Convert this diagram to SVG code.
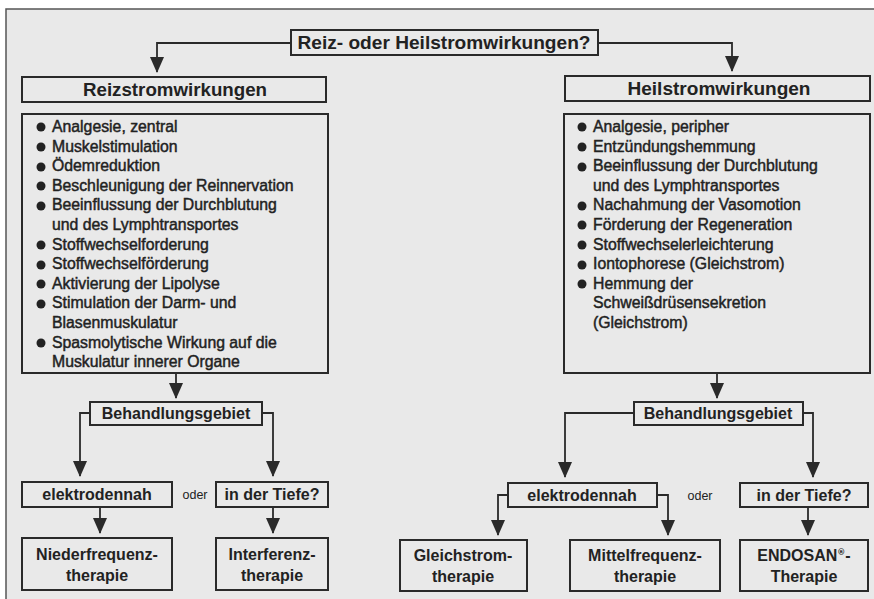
<svg xmlns="http://www.w3.org/2000/svg" width="874" height="599" viewBox="0 0 874 599">
<defs>
<marker id="ah" markerUnits="userSpaceOnUse" markerWidth="16" markerHeight="14" refX="15" refY="7" orient="auto" viewBox="0 0 16 14">
<path d="M0,0 L16,7 L0,14 Z" fill="#2a2a2a"/>
</marker>
</defs>
<style>
.bx{fill:none;stroke:#2a2a2a;stroke-width:2}
.cn{fill:none;stroke:#2a2a2a;stroke-width:1.8}
.h{font-family:"Liberation Sans",Arial,sans-serif;font-weight:bold;fill:#222;text-anchor:middle}
.t{font-family:"Liberation Sans",Arial,sans-serif;font-size:15.8px;fill:#222;stroke:#222;stroke-width:0.45}
.b{font-family:"Liberation Sans",Arial,sans-serif;font-weight:bold;font-size:16px;fill:#222;text-anchor:middle}
.o{font-family:"Liberation Sans",Arial,sans-serif;font-size:12.5px;fill:#222;text-anchor:middle}
.r{font-family:"DejaVu Sans",sans-serif;font-size:8px;fill:#222}
.d{fill:#222}
</style>
<rect x="0" y="0" width="874" height="599" fill="#ffffff"/>
<rect x="6" y="9" width="868" height="590" fill="#e9e9e9"/>
<path d="M6,599 V9 H874" fill="none" stroke="#555" stroke-width="1.5"/>

<g id="connectors">
<path class="cn" d="M291,43 H157 V72" marker-end="url(#ah)"/>
<path class="cn" d="M598,43 H732 V71" marker-end="url(#ah)"/>
<path class="cn" d="M176,373 V398" marker-end="url(#ah)"/>
<path class="cn" d="M90,413 H80 V476" marker-end="url(#ah)"/>
<path class="cn" d="M262,413 H273 V476" marker-end="url(#ah)"/>
<path class="cn" d="M100,507 V533" marker-end="url(#ah)"/>
<path class="cn" d="M273,507 V533" marker-end="url(#ah)"/>
<path class="cn" d="M717,373 V398" marker-end="url(#ah)"/>
<path class="cn" d="M634,413 H565 V477" marker-end="url(#ah)"/>
<path class="cn" d="M803,413 H813 V477" marker-end="url(#ah)"/>
<path class="cn" d="M508,495 H498 V535" marker-end="url(#ah)"/>
<path class="cn" d="M657,495 H668 V535" marker-end="url(#ah)"/>
<path class="cn" d="M808,507 V535" marker-end="url(#ah)"/>
</g>

<g id="root">
<rect class="bx" x="291" y="30" width="307" height="25"/>
<text class="h" x="444" y="49" font-size="18.5" textLength="293" lengthAdjust="spacingAndGlyphs">Reiz- oder Heilstromwirkungen?</text>
</g>

<g id="reiz">
<rect class="bx" x="22" y="77" width="304" height="25"/>
<text class="h" x="175" y="96" font-size="18.5" textLength="184" lengthAdjust="spacingAndGlyphs">Reizstromwirkungen</text>
</g>

<g id="heil">
<rect class="bx" x="565" y="76" width="305" height="25"/>
<text class="h" x="719" y="95" font-size="18.5" textLength="183" lengthAdjust="spacingAndGlyphs">Heilstromwirkungen</text>
</g>

<g id="reiz-list">
<rect class="bx" x="22" y="114" width="306" height="259"/>
<circle class="d" cx="41" cy="127" r="4.5"/>
<text class="t" x="52" y="132">Analgesie, zentral</text>
<circle class="d" cx="41" cy="147" r="4.5"/>
<text class="t" x="52" y="152">Muskelstimulation</text>
<circle class="d" cx="41" cy="167" r="4.5"/>
<text class="t" x="52" y="171">Ödemreduktion</text>
<circle class="d" cx="41" cy="186" r="4.5"/>
<text class="t" x="52" y="191">Beschleunigung der Reinnervation</text>
<circle class="d" cx="41" cy="206" r="4.5"/>
<text class="t" x="52" y="210">Beeinflussung der Durchblutung</text>
<text class="t" x="52" y="230">und des Lymphtransportes</text>
<circle class="d" cx="41" cy="245" r="4.5"/>
<text class="t" x="52" y="250">Stoffwechselforderung</text>
<circle class="d" cx="41" cy="265" r="4.5"/>
<text class="t" x="52" y="269">Stoffwechselförderung</text>
<circle class="d" cx="41" cy="284" r="4.5"/>
<text class="t" x="52" y="289">Aktivierung der Lipolyse</text>
<circle class="d" cx="41" cy="304" r="4.5"/>
<text class="t" x="52" y="308">Stimulation der Darm- und</text>
<text class="t" x="52" y="328">Blasenmuskulatur</text>
<circle class="d" cx="41" cy="343" r="4.5"/>
<text class="t" x="52" y="348">Spasmolytische Wirkung auf die</text>
<text class="t" x="52" y="367">Muskulatur innerer Organe</text>
</g>

<g id="heil-list">
<rect class="bx" x="564" y="114" width="306" height="259"/>
<circle class="d" cx="582" cy="127" r="4.5"/>
<text class="t" x="593" y="132">Analgesie, peripher</text>
<circle class="d" cx="582" cy="147" r="4.5"/>
<text class="t" x="593" y="152">Entzündungshemmung</text>
<circle class="d" cx="582" cy="167" r="4.5"/>
<text class="t" x="593" y="171">Beeinflussung der Durchblutung</text>
<text class="t" x="593" y="191">und des Lymphtransportes</text>
<circle class="d" cx="582" cy="206" r="4.5"/>
<text class="t" x="593" y="210">Nachahmung der Vasomotion</text>
<circle class="d" cx="582" cy="225" r="4.5"/>
<text class="t" x="593" y="230">Förderung der Regeneration</text>
<circle class="d" cx="582" cy="245" r="4.5"/>
<text class="t" x="593" y="250">Stoffwechselerleichterung</text>
<circle class="d" cx="582" cy="265" r="4.5"/>
<text class="t" x="593" y="269">Iontophorese (Gleichstrom)</text>
<circle class="d" cx="582" cy="284" r="4.5"/>
<text class="t" x="593" y="289">Hemmung der</text>
<text class="t" x="593" y="308">Schweißdrüsensekretion</text>
<text class="t" x="593" y="328">(Gleichstrom)</text>
</g>

<g id="beh-left">
<rect class="bx" x="90" y="402" width="172" height="23"/>
<text class="b" x="176" y="419">Behandlungsgebiet</text>
</g>
<g id="beh-right">
<rect class="bx" x="634" y="402" width="169" height="23"/>
<text class="b" x="718" y="419">Behandlungsgebiet</text>
</g>

<g id="elek-left">
<rect class="bx" x="22" y="482" width="150" height="25"/>
<text class="b" x="97" y="500">elektrodennah</text>
</g>
<text class="o" x="195" y="499">oder</text>
<g id="tiefe-left">
<rect class="bx" x="216" y="482" width="112" height="25"/>
<text class="b" x="272" y="500">in der Tiefe?</text>
</g>

<g id="elek-right">
<rect class="bx" x="508" y="483" width="149" height="24"/>
<text class="b" x="582" y="501">elektrodennah</text>
</g>
<text class="o" x="700" y="500">oder</text>
<g id="tiefe-right">
<rect class="bx" x="740" y="483" width="128" height="24"/>
<text class="b" x="804" y="501">in der Tiefe?</text>
</g>

<g id="nieder">
<rect class="bx" x="22" y="538" width="150" height="52"/>
<text class="b" x="97" y="560">Niederfrequenz-</text>
<text class="b" x="97" y="581">therapie</text>
</g>
<g id="interferenz">
<rect class="bx" x="216" y="538" width="112" height="52"/>
<text class="b" x="272" y="560">Interferenz-</text>
<text class="b" x="272" y="581">therapie</text>
</g>
<g id="gleich">
<rect class="bx" x="400" y="540" width="127" height="51"/>
<text class="b" x="463" y="561">Gleichstrom-</text>
<text class="b" x="463" y="582">therapie</text>
</g>
<g id="mittel">
<rect class="bx" x="570" y="540" width="150" height="51"/>
<text class="b" x="645" y="561">Mittelfrequenz-</text>
<text class="b" x="645" y="582">therapie</text>
</g>
<g id="endosan">
<rect class="bx" x="740" y="540" width="128" height="51"/>
<text class="b" x="804" y="561">ENDOSAN<tspan class="r" dy="-6">®</tspan><tspan dy="6">-</tspan></text>
<text class="b" x="804" y="582">Therapie</text>
</g>
</svg>
